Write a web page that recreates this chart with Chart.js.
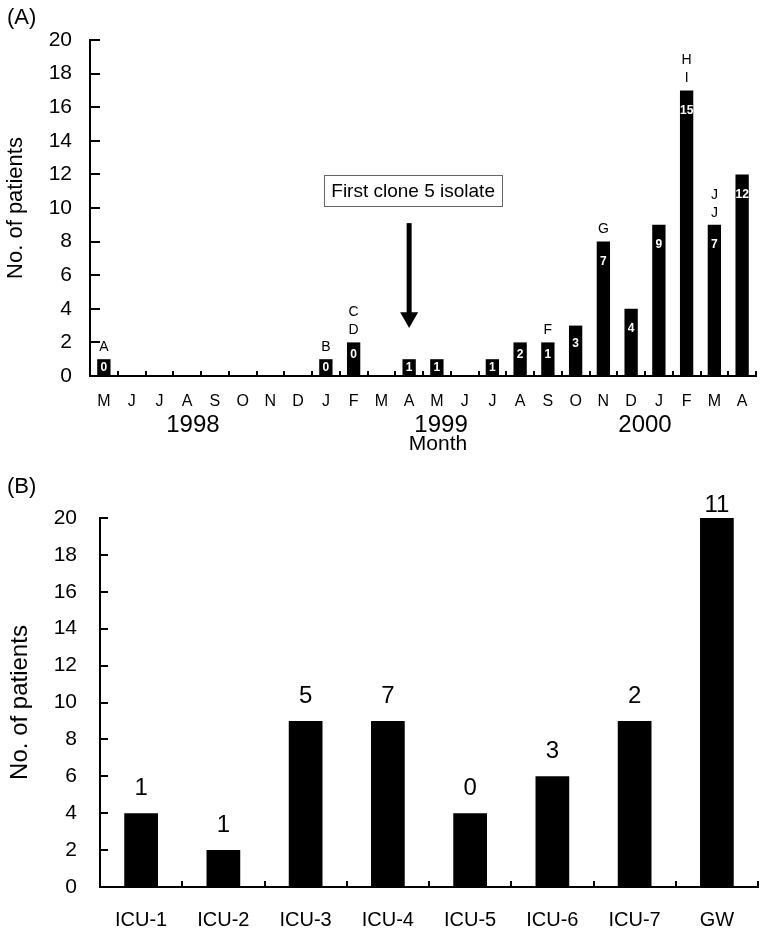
<!DOCTYPE html>
<html>
<head>
<meta charset="utf-8">
<script src="https://cdn.jsdelivr.net/npm/chart.js@4.4.0/dist/chart.umd.min.js"></script>
<style>
  html, body { margin: 0; padding: 0; background: #fff; }
  #wrap { position: relative; width: 766px; height: 933px; overflow: hidden; }
  .tag { position: absolute; left: 7px; font-family: "Liberation Sans", Arial, sans-serif; font-size: 22px; line-height: 24px; color: #000; }
  #canvasA { position: absolute; left: 0; top: 0; }
  #canvasB { position: absolute; left: 0; top: 440px; }
</style>
</head>
<body>
<div id="wrap">
  <canvas id="canvasA" width="766" height="462"></canvas>
  <canvas id="canvasB" width="766" height="493"></canvas>
  <div class="tag" style="top:5px;">(A)</div>
  <div class="tag" style="top:474px;">(B)</div>
</div>
<script>
// Panel A — monthly counts
var months = ['M','J','J','A','S','O','N','D','J','F','M','A','M','J','J','A','S','O','N','D','J','F','M','A'];
var monthCounts = [1,0,0,0,0,0,0,0,1,2,0,1,1,0,1,2,2,3,8,4,9,17,9,12];
var innerLabels = ['0','','','','','','','','0','0','','1','1','','1','2','1','3','7','4','9','15','7','12'];
var topLetters = [['A'],[],[],[],[],[],[],[],['B'],['C','D'],[],[],[],[],[],[],['F'],[],['G'],[],[],['H','I'],['J','J'],[]];
var years = ['1998','1999','2000'];
var annotationText = 'First clone 5 isolate';

// Panel B — by ward
var wards = ['ICU-1','ICU-2','ICU-3','ICU-4','ICU-5','ICU-6','ICU-7','GW'];
var wardCounts = [4,2,9,9,4,6,9,20];
var wardLabels = ['1','1','5','7','0','3','2','11'];

var FAM = '"Liberation Sans", Arial, sans-serif';
var NARROW = '"Liberation Sans Narrow", "Arial Narrow", "Liberation Sans", Arial, sans-serif';

function drawInwardTicks(chart, yLen, xLen) {
  var ctx = chart.ctx, a = chart.chartArea;
  var y = chart.scales.y, x = chart.scales.x;
  ctx.save();
  ctx.strokeStyle = '#000';
  ctx.lineWidth = 2;
  y.ticks.forEach(function(t) {
    var py = Math.round(y.getPixelForValue(t.value));
    ctx.beginPath(); ctx.moveTo(a.left, py); ctx.lineTo(a.left + yLen, py); ctx.stroke();
  });
  var n = x.ticks.length, w = (a.right - a.left) / n;
  for (var i = 1; i <= n; i++) {
    var px = Math.round(a.left + i * w);
    ctx.beginPath(); ctx.moveTo(px, a.bottom); ctx.lineTo(px, a.bottom - xLen); ctx.stroke();
  }
  ctx.restore();
}

var panelAExtras = {
  id: 'panelAExtras',
  afterDraw: function(chart) {
    var ctx = chart.ctx, a = chart.chartArea;
    var xs = chart.scales.x, ys = chart.scales.y;
    var meta = chart.getDatasetMeta(0);
    drawInwardTicks(chart, 10, 5);

    ctx.save();
    ctx.textAlign = 'center';
    ctx.textBaseline = 'middle';
    meta.data.forEach(function(bar, i) {
      if (!monthCounts[i]) return;
      var h = bar.base - bar.y;
      if (innerLabels[i]) {
        ctx.fillStyle = '#fff';
        ctx.font = 'bold 12px ' + FAM;
        ctx.fillText(innerLabels[i], bar.x, bar.y + Math.min(20, Math.max(8, 0.36 * h)));
      }
      var letters = topLetters[i];
      ctx.fillStyle = '#000';
      ctx.font = '14px ' + FAM;
      for (var k = 0; k < letters.length; k++) {
        var off = 12 + (letters.length - 1 - k) * 18;
        ctx.fillText(letters[k], bar.x, bar.y - off);
      }
    });

    // year labels and axis title
    var catW = (a.right - a.left) / months.length;
    var yearPos = [3.71, 12.65, 20.0];
    ctx.font = '24px ' + FAM;
    years.forEach(function(y, i) {
      ctx.fillText(y, a.left + yearPos[i] * catW, 425);
    });
    ctx.font = '21px ' + FAM;
    ctx.fillText('Month', a.left + 12.54 * catW, 444);

    // annotation box + arrow
    var ax = xs.getPixelForValue(11);
    ctx.font = '19px ' + FAM;
    var tw = ctx.measureText(annotationText).width;
    var bx = ax + 4, by = ys.getPixelForValue(11.05);
    var bw = tw + 14, bh = 31;
    ctx.strokeStyle = '#666';
    ctx.lineWidth = 1;
    ctx.strokeRect(Math.round(bx - bw / 2) + 0.5, Math.round(by - bh / 2) + 0.5, Math.round(bw), bh);
    ctx.fillStyle = '#000';
    ctx.fillText(annotationText, bx, by + 1);

    var yTop = ys.getPixelForValue(9.1), yHead = ys.getPixelForValue(3.8), yTip = ys.getPixelForValue(2.85);
    ctx.fillRect(ax - 2.5, yTop, 5, yHead - yTop + 1);
    ctx.beginPath();
    ctx.moveTo(ax - 9, yHead); ctx.lineTo(ax + 9, yHead); ctx.lineTo(ax, yTip); ctx.closePath();
    ctx.fill();
    ctx.restore();
  }
};

var panelBExtras = {
  id: 'panelBExtras',
  afterDraw: function(chart) {
    var ctx = chart.ctx, a = chart.chartArea;
    var meta = chart.getDatasetMeta(0);
    drawInwardTicks(chart, 8, 6);
    ctx.save();
    ctx.fillStyle = '#000';
    ctx.textAlign = 'center';
    ctx.textBaseline = 'alphabetic';
    ctx.font = '24px ' + NARROW;
    meta.data.forEach(function(bar, i) {
      var yb = Math.max(bar.y - 18, a.top - 6);
      ctx.fillText(wardLabels[i], bar.x, yb);
    });
    ctx.restore();
  }
};

function axisOpts(extra) {
  var o = {
    grid: { display: false, drawTicks: false },
    border: { display: true, color: '#000', width: 2 },
    ticks: { color: '#000' }
  };
  for (var k in extra) o[k] = extra[k];
  return o;
}

new Chart(document.getElementById('canvasA').getContext('2d'), {
  type: 'bar',
  data: {
    labels: months,
    datasets: [{
      data: monthCounts,
      backgroundColor: '#000',
      borderWidth: 0,
      barPercentage: 0.48,
      categoryPercentage: 1
    }]
  },
  options: {
    responsive: false,
    animation: false,
    layout: { padding: { top: 40, right: 10, bottom: 0, left: 0 } },
    plugins: { legend: { display: false }, tooltip: { enabled: false } },
    scales: {
      x: axisOpts({
        ticks: { color: '#000', font: { size: 16, family: FAM }, padding: 16, autoSkip: false, maxRotation: 0 },
        afterFit: function(s) { s.height = 86; }
      }),
      y: axisOpts({
        min: 0, max: 20,
        ticks: { color: '#000', stepSize: 2, font: { size: 21, family: FAM }, padding: 18 },
        title: { display: true, text: 'No. of patients', color: '#000', font: { size: 22, family: FAM }, padding: { top: 3, bottom: 0 } },
        afterFit: function(s) { s.width = 90; }
      })
    }
  },
  plugins: [panelAExtras]
});

new Chart(document.getElementById('canvasB').getContext('2d'), {
  type: 'bar',
  data: {
    labels: wards,
    datasets: [{
      data: wardCounts,
      backgroundColor: '#000',
      borderWidth: 0,
      barPercentage: 0.41,
      categoryPercentage: 1
    }]
  },
  options: {
    responsive: false,
    animation: false,
    layout: { padding: { top: 78, right: 8, bottom: 0, left: 0 } },
    plugins: { legend: { display: false }, tooltip: { enabled: false } },
    scales: {
      x: axisOpts({
        ticks: { color: '#000', font: { size: 20, family: NARROW }, padding: 21, autoSkip: false, maxRotation: 0 },
        afterFit: function(s) { s.height = 46; }
      }),
      y: axisOpts({
        min: 0, max: 20,
        ticks: { color: '#000', stepSize: 2, font: { size: 21, family: NARROW }, padding: 23 },
        title: { display: true, text: 'No. of patients', color: '#000', font: { size: 24, family: FAM }, padding: { top: 6, bottom: 0 } },
        afterFit: function(s) { s.width = 100; }
      })
    }
  },
  plugins: [panelBExtras]
});
</script>
</body>
</html>
